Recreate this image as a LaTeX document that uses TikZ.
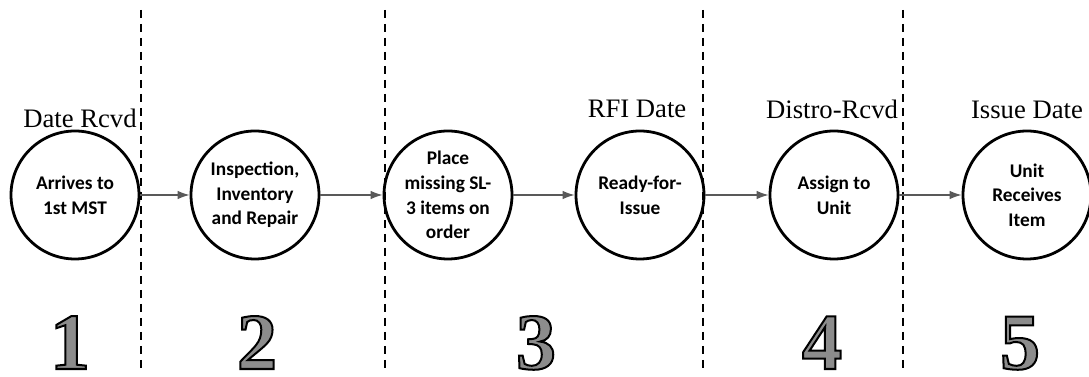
\documentclass[tikz,border=0pt]{standalone}
\usepackage{fontspec}
\setmainfont{Liberation Serif}
\newfontfamily\stepfont{Carlito}
\usetikzlibrary{arrows.meta}
% outlined digit: grey fill, black stroke (xdvipdfmx text render mode 2)
\newcommand{\outlinedigit}[1]{{\color{black!45}\special{pdf:literal direct 0 G 1.5 w 2 Tr}#1\special{pdf:literal direct 0 Tr}}}

\begin{document}
\begin{tikzpicture}[x=0.75pt, y=-0.75pt,
		stage/.style={circle, draw=black, line width=2.1pt, minimum size=96pt, inner sep=0pt, align=center,
			font=\stepfont\bfseries\fontsize{14.5}{18.5}\selectfont},
		datelbl/.style={anchor=base, font=\fontsize{20}{22}\selectfont},
		phase/.style={anchor=base, inner sep=1pt, font=\bfseries\fontsize{60}{60}\selectfont},
		flow/.style={draw=black!65, line width=1.1pt, -{Latex[length=9pt, width=6.5pt]}},
		divider/.style={line width=1.5pt, dash pattern=on 6pt off 4.5pt}]
		\useasboundingbox (0, 0) rectangle (1089, 377);

		\node[stage] (arrive) at (75, 195) {Arrives to\\1st MST};
		\node[stage] (inspect) at (255, 195) {Inspection,\\Inventory\\and Repair};
		\node[stage] (order) at (448, 195) {Place\\missing SL-\\3 items on\\order};
		\node[stage] (ready) at (640, 195) {Ready-for-\\Issue};
		\node[stage] (assign) at (834, 195) {Assign to\\Unit};
		\node[stage] (recv) at (1027, 195) {Unit\\Receives\\Item};

		\node[datelbl] (rcvd) at (80, 128) {Date Rcvd};
		\node[datelbl] (rfi) at (637, 118) {RFI Date};
		\node[datelbl] (distro) at (832, 119) {Distro-Rcvd};
		\node[datelbl] (issue) at (1027, 119) {Issue Date};

		\foreach \x/\n in {70/1, 257/2, 536/3, 822/4, 1020/5}
			\node[phase] (num\n) at (\x, 369) {\outlinedigit{\n}};

		\foreach \x in {141, 385, 703, 903}
			\draw[divider] (\x, 10) -- (\x, 370);

		\path (arrive) edge[flow] (inspect)
		(inspect) edge[flow] (order)
		(order) edge[flow] (ready)
		(ready) edge[flow] (assign)
		(assign) edge[flow] (recv);
	\end{tikzpicture}
\end{document}
